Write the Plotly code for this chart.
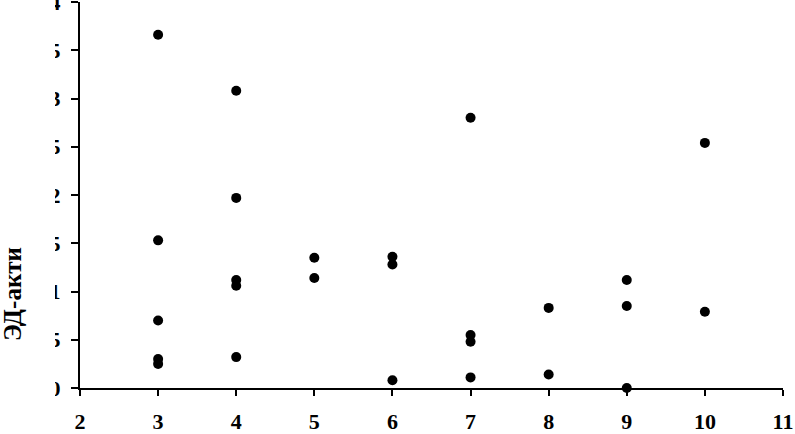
import plotly.graph_objects as go

# data
x_vals = [3, 3, 3, 3, 3, 4, 4, 4, 4, 4, 5, 5, 6, 6, 6, 7, 7, 7, 7, 8, 8, 9, 9, 9, 10, 10]
y_vals = [3.66, 1.53, 0.70, 0.30, 0.25,
          3.08, 1.97, 1.12, 1.06, 0.32,
          1.35, 1.14,
          1.36, 1.28, 0.08,
          2.80, 0.55, 0.48, 0.11,
          0.83, 0.14,
          1.12, 0.85, 0.00,
          2.54, 0.79]
x_ticks = [2, 3, 4, 5, 6, 7, 8, 9, 10, 11]
y_ticks = [0, 0.5, 1, 1.5, 2, 2.5, 3, 3.5, 4]
y_tick_text = ["0", "0,5", "1", "1,5", "2", "2,5", "3", "3,5", "4"]
y_title = "ЭД-акти"

W, H = 795, 434
ML, MR, MT, MB = 80, 12, 2, 46

fig = go.Figure()
fig.add_trace(go.Scatter(
    x=x_vals, y=y_vals, mode="markers",
    marker=dict(color="black", size=10, line=dict(width=0)),
    cliponaxis=False, showlegend=False,
))

serif = "Liberation Serif, Times New Roman, serif"
fig.update_layout(
    width=W, height=H,
    margin=dict(l=ML, r=MR, t=MT, b=MB, pad=0, autoexpand=False),
    paper_bgcolor="white", plot_bgcolor="white",
    font=dict(family=serif, color="black"),
    showlegend=False,
)
fig.update_xaxes(
    range=[2, 11], tickvals=x_ticks, ticktext=[str(v) for v in x_ticks],
    automargin=False,
    showgrid=False, zeroline=False, showline=True, linecolor="black", linewidth=2,
    ticks="outside", ticklen=6, tickwidth=2, tickcolor="black",
    tickfont=dict(family=serif, size=22, weight="bold", color="black"),
    ticklabelstandoff=7,
)
fig.update_yaxes(
    range=[0, 4], tickvals=y_ticks, ticktext=y_tick_text,
    automargin=False, ticklabeloverflow="allow",
    showgrid=False, zeroline=False, showline=True, linecolor="black", linewidth=2,
    ticks="outside", ticklen=7, tickwidth=2, tickcolor="black",
    tickfont=dict(family=serif, size=22, weight="bold", color="black"),
    ticklabelstandoff=6,
)

pw = W - ML - MR
ph = H - MT - MB
def px_to_paper_x(px):
    return (px - ML) / pw
def px_to_paper_y(py):
    return (H - MB - py) / ph

# white band that hides the damaged left part of the y tick labels (as in the scan)
fig.add_shape(type="rect", xref="paper", yref="paper", layer="above",
              x0=px_to_paper_x(24), x1=px_to_paper_x(55),
              y0=px_to_paper_y(H), y1=px_to_paper_y(0),
              fillcolor="white", line=dict(width=0))

fig.add_annotation(
    text=y_title, textangle=-90, showarrow=False,
    xref="paper", yref="paper",
    x=px_to_paper_x(12), y=px_to_paper_y(294),
    xanchor="center", yanchor="middle",
    font=dict(family=serif, size=25, weight="bold", color="black"),
)

fig.write_html("out.html", config={"displayModeBar": False},
               post_script="document.body.style.margin='0';")
